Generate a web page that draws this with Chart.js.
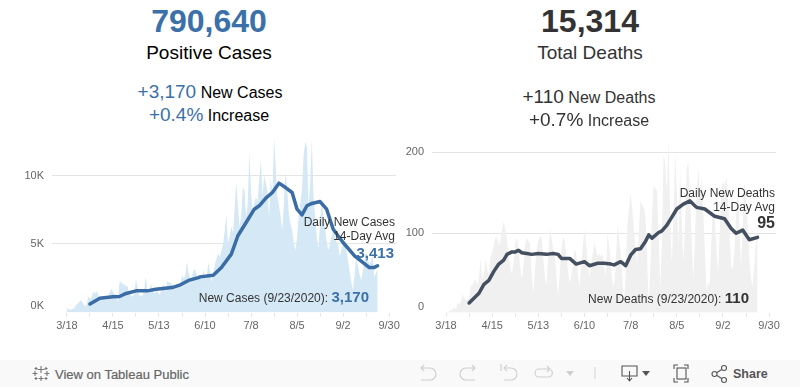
<!DOCTYPE html>
<html>
<head>
<meta charset="utf-8">
<title>Positive Cases and Total Deaths</title>
<script src="https://cdn.jsdelivr.net/npm/chart.js@4"></script>
<style>
    html, body { margin: 0; padding: 0; background: #fff; }
    body { width: 800px; height: 387px; position: relative; overflow: hidden; font-family: "Liberation Sans", Arial, sans-serif; }
    canvas { position: absolute; top: 130px; }
    #casesChart { left: 0; }
    #deathsChart { left: 380px; }
    .txt { position: absolute; white-space: nowrap; line-height: 1; }
    .c { transform: translate(-50%, -50%); }
    .r { transform: translate(-100%, -50%); }
    .blue { color: #3b70a8; }
    .dark { color: #333; }
    .note { font-size: 12px; color: #333; }
    .bar { position: absolute; left: 0; top: 360px; width: 800px; height: 27px; background: #f9f9f9; }
    .bar svg { position: absolute; top: 0; left: 0; }
</style>
</head>
<body>
<canvas id="casesChart" width="400" height="205"></canvas>
<canvas id="deathsChart" width="400" height="205"></canvas>

<div class="txt c blue" style="left:209px;top:21px;font-size:32px;font-weight:bold">790,640</div>
<div class="txt c" style="left:209px;top:52px;font-size:19px">Positive Cases</div>
<div class="txt c" style="left:210px;top:91px;font-size:16px"><span class="blue" style="font-size:19px">+3,170</span> New Cases</div>
<div class="txt c" style="left:209px;top:114px;font-size:16px"><span class="blue" style="font-size:19px">+0.4%</span> Increase</div>

<div class="txt c dark" style="left:590px;top:21px;font-size:32px;font-weight:bold">15,314</div>
<div class="txt c" style="left:590px;top:52px;font-size:19px;color:#333">Total Deaths</div>
<div class="txt c" style="left:589px;top:96px;font-size:16px;color:#333"><span style="font-size:19px">+110</span> New Deaths</div>
<div class="txt c" style="left:589px;top:119px;font-size:16px;color:#333"><span style="font-size:19px">+0.7%</span> Increase</div>

<div class="txt r note" style="left:395px;top:222px">Daily New Cases</div>
<div class="txt r note" style="left:395px;top:236px">14-Day Avg</div>
<div class="txt r blue" style="left:394px;top:252px;font-size:15px;font-weight:bold">3,413</div>
<div class="txt r note" style="left:369px;top:296px">New Cases (9/23/2020): <span class="blue" style="font-size:15px;font-weight:bold">3,170</span></div>

<div class="txt r note" style="left:775px;top:193px">Daily New Deaths</div>
<div class="txt r note" style="left:775px;top:207px">14-Day Avg</div>
<div class="txt r dark" style="left:775px;top:223px;font-size:16px;font-weight:bold">95</div>
<div class="txt r note" style="left:749px;top:297px">New Deaths (9/23/2020): <span style="font-size:15px;font-weight:bold">110</span></div>

<div class="bar">
    <svg width="800" height="27" fill="none" stroke-width="1.1">
        <!-- tableau logo -->
        <g stroke="#777">
            <path d="M41 6v7M37.500 9.500h7M41 16v5M38.500 18.500h5M35 11v5M32.500 13.500h5M47 11v5M44.500 13.500h5M36 7v3M34.500 8.500h3M46 7v3M44.500 8.500h3M36 17v3M34.500 18.500h3M46 17v3M44.500 18.500h3"/>
        </g>
        <!-- undo, redo, back, forward: disabled -->
        <g stroke="#cfcfcf">
            <path d="M421 8h9a5.500 5.500 0 0 1 0 12h-9M424 5l-3 3 3 3"/>
            <path d="M475 8h-9a5.500 5.500 0 0 0 0 12h9M472 5l3 3-3 3"/>
            <path d="M501 4v7M505 8h6a5.500 5.500 0 0 1 0 12h-7M507 5l-3 3 3 3"/>
            <path d="M550 9h-11a4 4 0 0 0 0 8h9a4 4 0 0 0 3-7M547 6l3 3-3 3"/>
            <path d="M595 7v12" stroke="#d8d8d8"/>
        </g>
        <path d="M566 11h8l-4 5z" fill="#cfcfcf"/>
        <!-- download, fullscreen, share -->
        <g stroke="#555">
            <path d="M629 16h-7V6h15v10h-7M629.500 11v10M627 18l2.500 3 2.500-3"/>
            <path d="M674 9V5h4M684 5h4v4M688 18v4h-4M678 22h-4v-4"/>
            <rect x="677" y="8" width="9" height="11"/>
            <circle cx="714.500" cy="14" r="2.500"/><circle cx="724" cy="8" r="2.500"/><circle cx="724" cy="20" r="2.500"/>
            <path d="M717 12.500l4.700-3M717 15.500l4.700 3"/>
        </g>
        <path d="M642 11h8l-4 5z" fill="#555"/>
    </svg>
    <div class="txt" style="left:55px;top:14px;transform:translateY(-50%);font-size:13px;color:#666;-webkit-text-stroke:0.2px #666">View on Tableau Public</div>
    <div class="txt" style="left:733px;top:14px;transform:translateY(-50%);font-size:12.5px;color:#555;font-weight:bold">Share</div>
</div>

<script>
// Days are counted from 3/18
const xTickDays = [0, 14, 28, 42, 56, 70, 84, 98, 112, 126, 140, 154, 168, 182, 196];
const xTickLabels = ['3/18', '', '4/15', '', '5/13', '', '6/10', '', '7/8', '', '8/5', '', '9/2', '', '9/30'];

// Daily new cases, 3/18 to 9/23
const dailyCases = [
    350, 240, 200, 230, 260, 400, 610, 700, 880, 820,
    640, 430, 620, 1180, 1000, 1100, 1550, 1350, 1550, 1300,
    950, 900, 1000, 1000, 880, 1200, 1450, 1750, 1500, 1350,
    1300, 730, 2280, 2200, 2100, 2000, 1950, 1900, 1300, 1260,
    1150, 1400, 2430, 1800, 1200, 1250, 1200, 1600, 2650, 1500,
    1400, 2110, 1700, 1380, 1500, 1600, 1300, 1450, 1900, 2040,
    1500, 2280, 2200, 2150, 2100, 1800, 1700, 1990, 1900, 2100,
    2720, 2500, 2650, 3700, 2900, 2350, 2600, 3100, 3100, 2800,
    2400, 2600, 2500, 3090, 2600, 2500, 3650, 3000, 2240, 2900,
    3500, 3900, 4300, 4060, 4500, 5000, 6000, 7150, 5040, 5600,
    6250, 5800, 7500, 9490, 7800, 6250, 7000, 9120, 8930, 6980,
    8000, 11650, 8800, 7470, 8000, 8440, 8080, 9800, 11120, 8440,
    10020, 9420, 8800, 6980, 9900, 8500, 12770, 10630, 8440, 7800,
    7000, 6010, 8000, 10270, 9000, 7230, 6500, 6000, 5040, 4550,
    5500, 7000, 8000, 9000, 11500, 12460, 12090, 7710, 9500, 12630,
    8440, 7000, 5500, 4670, 6500, 8200, 7000, 6200, 5200, 4550,
    5000, 5600, 6010, 5500, 5160, 5000, 4060, 4600, 5000, 5100,
    4500, 3800, 3000, 2200, 1630, 2800, 4060, 3400, 2800, 2360,
    3000, 3800, 4430, 3900, 3500, 3700, 4180, 2600, 2900, 3170
];
const casesAvgDays = [14, 20, 28, 32, 36, 42, 49, 54, 64, 69, 74, 80, 81, 89, 94, 100, 104, 109, 114, 117, 121, 125, 129, 133, 137, 140, 143, 146, 149, 154, 158, 162, 168, 175, 184, 187, 189];
const casesAvg = [620, 1040, 1150, 1170, 1390, 1580, 1580, 1700, 1820, 2020, 2340, 2550, 2600, 2720, 3280, 4260, 5600, 6570, 7540, 7790, 8350, 8760, 9440, 9120, 8760, 7540, 7130, 7790, 7960, 8100, 7540, 6080, 5110, 4140, 3280, 3290, 3413];

// Daily new deaths, 3/18 to 9/23
const dailyDeaths = [
    3, 3, 4, 5, 6, 9, 6, 14, 13, 15,
    25, 20, 18, 17, 20, 34, 36, 40, 44, 36,
    45, 69, 42, 50, 69, 55, 50, 72, 76, 85,
    95, 95, 85, 92, 105, 115, 105, 92, 75, 58,
    49, 65, 88, 95, 80, 60, 42, 60, 85, 95,
    90, 88, 50, 26, 55, 80, 92, 96, 96, 70,
    45, 36, 70, 106, 95, 80, 71, 45, 22, 50,
    80, 95, 92, 70, 55, 38, 48, 60, 81, 75,
    50, 34, 60, 85, 105, 88, 60, 46, 60, 75,
    88, 82, 71, 75, 71, 75, 60, 46, 100, 85,
    60, 40, 34, 65, 110, 95, 75, 45, 14, 50,
    112, 130, 149, 130, 104, 80, 63, 100, 141, 135,
    131, 121, 70, 10, 60, 125, 160, 155, 153, 100,
    30, 90, 197, 186, 150, 218, 120, 63, 120, 200,
    150, 80, 178, 120, 63, 110, 180, 188, 150, 95,
    42, 90, 150, 182, 150, 166, 130, 80, 30, 38,
    38, 90, 140, 120, 85, 50, 100, 155, 164, 160,
    170, 150, 100, 60, 55, 80, 125, 160, 110, 59,
    110, 164, 150, 110, 70, 45, 34, 60, 90, 110
];
const deathsAvgDays = [14, 20, 23, 26, 29, 32, 35, 37, 40, 42, 44, 46, 49, 52, 56, 61, 65, 68, 70, 75, 79, 84, 87, 92, 96, 100, 102, 106, 109, 112, 115, 118, 121, 123, 125, 129, 131, 134, 137, 140, 144, 148, 152, 157, 163, 169, 173, 176, 180, 184, 189];
const deathsAvg = [14, 26, 37, 42, 53, 62, 67, 74, 77, 77, 79, 76, 75, 74, 75, 74, 75, 74, 69, 69, 62, 65, 60, 63, 63, 62, 61, 65, 60, 73, 80, 81, 90, 98, 94, 101, 103, 110, 120, 130, 136, 140, 132, 130, 121, 118, 106, 100, 104, 92, 95];

function toPoints(days, values) {
    return values.map((v, i) => ({ x: days[i], y: v }));
}
const allDays = dailyCases.map((v, i) => i);

// Build one panel, the plot box is fixed so both line up with the page text
function makePanel(id, cfg) {
    return new Chart(document.getElementById(id), {
        type: 'line',
        data: {
            datasets: [
                { data: toPoints(cfg.avgDays, cfg.avg), borderColor: cfg.lineColor, borderWidth: 3.5, pointRadius: 0, borderJoinStyle: 'round', borderCapStyle: 'round', fill: false, order: 0 },
                { data: toPoints(allDays, cfg.daily), borderWidth: 0, backgroundColor: cfg.areaColor, pointRadius: 0, fill: 'start', order: 1 }
            ]
        },
        options: {
            responsive: false,
            animation: false,
            layout: { padding: { left: cfg.left, right: cfg.right, top: 0, bottom: 0 } },
            plugins: { legend: { display: false }, tooltip: { enabled: false } },
            scales: {
                x: {
                    type: 'linear',
                    min: cfg.xMin,
                    max: cfg.xMax,
                    afterBuildTicks: s => { s.ticks = xTickDays.map(d => ({ value: d })); },
                    afterFit: s => { s.paddingLeft = 0; s.paddingRight = 0; s.height = cfg.xHeight; },
                    border: { display: false },
                    grid: { drawOnChartArea: false, color: '#e4e4e4', tickLength: 4 },
                    ticks: {
                        autoSkip: false,
                        maxRotation: 0,
                        padding: 3,
                        color: '#666',
                        font: { family: '"Liberation Sans", Arial, sans-serif', size: 11 },
                        callback: v => xTickLabels[xTickDays.indexOf(v)]
                    }
                },
                y: {
                    min: cfg.yMin,
                    max: cfg.yMax,
                    // zero label sits just above the baseline, so it has no grid line of its own
                    afterBuildTicks: s => { s.ticks = cfg.yTicks.map(v => ({ value: v })); },
                    afterFit: s => { s.width = cfg.yWidth; s.paddingTop = 0; s.paddingBottom = 0; },
                    border: { display: false },
                    grid: {
                        drawTicks: false,
                        color: c => (c.tick && c.tick.value === cfg.yTicks[0]) ? 'rgba(0,0,0,0)' : '#e4e4e4'
                    },
                    ticks: {
                        padding: 8,
                        color: '#666',
                        font: { family: '"Liberation Sans", Arial, sans-serif', size: 11 },
                        callback: v => cfg.yLabels[cfg.yTicks.indexOf(v)]
                    }
                }
            }
        }
    });
}

makePanel('casesChart', {
    daily: dailyCases, avg: casesAvg, avgDays: casesAvgDays,
    lineColor: '#3a6ca5', areaColor: '#d4e8f5',
    left: 0, right: 4, xMin: -9.1, xMax: 200.2, xHeight: 22.5, yWidth: 52,
    yMin: 0, yMax: 13320,
    yTicks: [500, 5000, 10000], yLabels: ['0K', '5K', '10K']
});

makePanel('deathsChart', {
    daily: dailyDeaths, avg: deathsAvg, avgDays: deathsAvgDays,
    lineColor: '#444f5f', areaColor: '#f0f0f0',
    left: 0, right: 4, xMin: -8.5, xMax: 200.2, xHeight: 22.3, yWidth: 52,
    yMin: 2, yMax: 227.5,
    yTicks: [9, 100, 200], yLabels: ['0', '100', '200']
});
</script>
</body>
</html>
